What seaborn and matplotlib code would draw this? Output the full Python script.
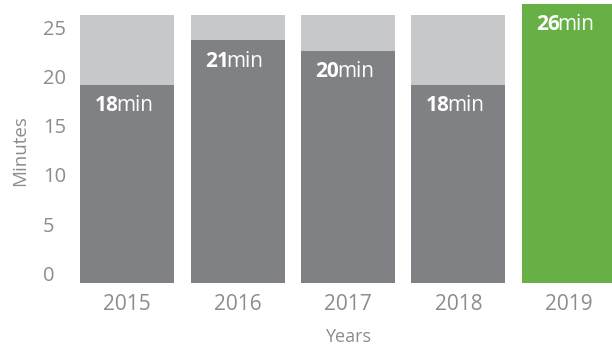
import matplotlib
matplotlib.use("Agg")
import matplotlib.pyplot as plt
import seaborn as sns
import pandas as pd

# values
years = ["2015", "2016", "2017", "2018", "2019"]
minutes = [18, 21, 20, 18, 26]                 # labelled values
bar_tops = [19.2, 23.7, 22.6, 19.2, 27.4]      # drawn bar heights (axis units)
track_top = 26.3                               # light grey background bars
base = -1.0                                    # bars start a bit below the 0 tick
yticks = [0, 5, 10, 15, 20, 25]

DARK = "#808185"
LIGHT = "#c7c8ca"
GREEN = "#66b046"
TXT = "#8c8c8f"

sns.set_style("white")
plt.rcParams["font.family"] = ["Open Sans", "DejaVu Sans"]

df = pd.DataFrame({"Year": years, "Minutes": minutes, "Top": bar_tops})
df["Height"] = df["Top"] - base
df["Track"] = track_top - base

fig = plt.figure(figsize=(6.12, 3.45), dpi=100)
ax = fig.add_axes([72 / 612, 62 / 345, 552 / 612, 279 / 345])

# background "track" bars, then the actual bars
sns.barplot(data=df.iloc[:4], x="Year", y="Track", order=years, color=LIGHT,
            width=0.85, bottom=base, ax=ax, saturation=1, linewidth=0)
sns.barplot(data=df, x="Year", y="Height", hue="Year", order=years,
            palette=[DARK, DARK, DARK, DARK, GREEN], legend=False,
            width=0.85, bottom=base, ax=ax, saturation=1, linewidth=0)

# value labels: bold number + regular "min"
for i, row in df.iterrows():
    ax.annotate(str(row["Minutes"]), (i, row["Top"]), xytext=(-6.5, -15),
                textcoords="offset points", ha="right", va="center",
                color="white", fontsize=15, fontweight="bold")
    ax.annotate("min", (i, row["Top"]), xytext=(-8, -15),
                textcoords="offset points", ha="left", va="center",
                color="white", fontsize=15)

ax.set_xlim(-0.5, 4.5)
ax.set_ylim(base, 27.4)
ax.set_yticks(yticks)
ax.set_yticklabels([str(t) for t in yticks])
for lab in ax.get_yticklabels():
    lab.set_horizontalalignment("left")
ax.tick_params(axis="y", length=0, pad=21, labelsize=14.5, labelcolor=TXT)
ax.tick_params(axis="x", length=0, pad=8, labelsize=15, labelcolor=TXT)

ax.set_xlabel("Years", fontsize=13, color=TXT, labelpad=9)
ax.set_ylabel("Minutes", fontsize=13.5, color=TXT)
ax.yaxis.set_label_coords(-0.078, 0.473)

sns.despine(ax=ax, left=True, bottom=True)

fig.savefig("out.png", dpi=100)
